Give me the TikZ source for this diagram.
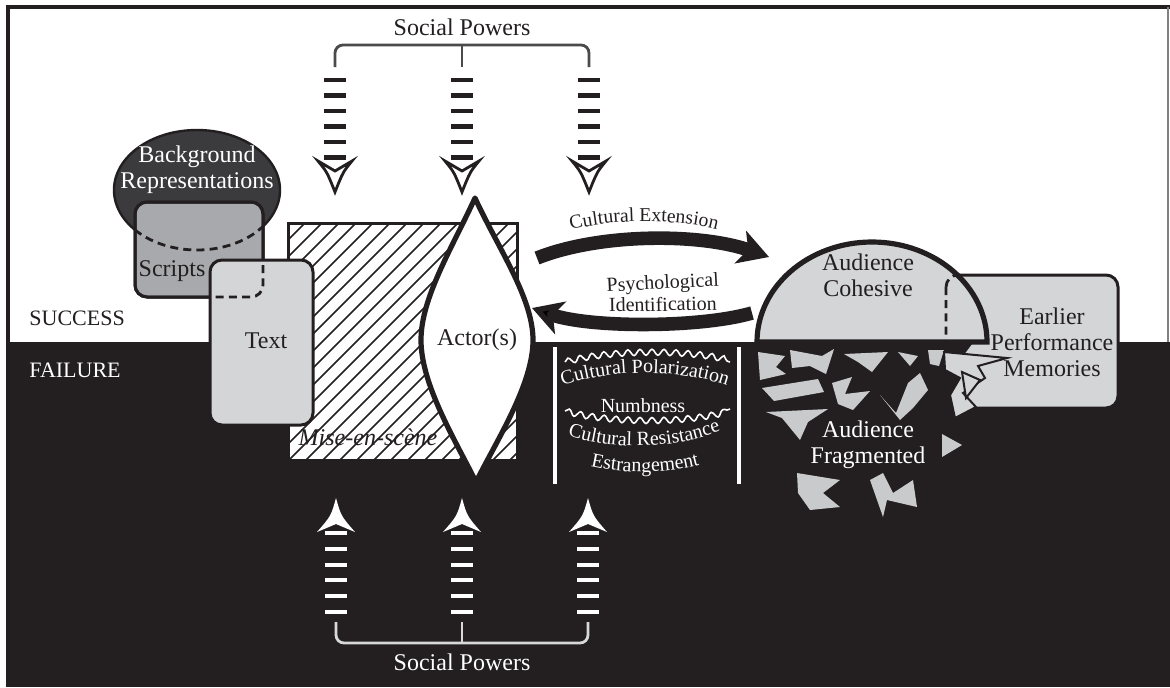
\documentclass[tikz,border=0pt]{standalone}
\usepackage{fontspec}
\setmainfont{Liberation Serif}
\usetikzlibrary{arrows.meta,decorations.pathmorphing,decorations.text}
\definecolor{ink}{HTML}{231F20}
\definecolor{bgdark}{HTML}{3B3B3D}
\definecolor{scriptgray}{HTML}{A7A9AC}
\definecolor{paper}{HTML}{D4D5D6}
\definecolor{shardgray}{HTML}{C9CACC}
\definecolor{bracketgray}{HTML}{4A4A4A}
\definecolor{bracketlight}{HTML}{D8D8D8}
\begin{document}
\begin{tikzpicture}[x=0.5pt,y=-0.5pt,
  lbl/.style={font=\fontsize{12}{13}\selectfont, text=ink, align=center, inner sep=0pt},
  wlbl/.style={lbl, text=white},
  slbl/.style={font=\fontsize{10}{12}\selectfont, text=ink, align=center, inner sep=0pt},
  boxline/.style={draw=ink, line width=1.5pt},
  dashline/.style={draw=ink, line width=1.4pt, dash pattern=on 4pt off 2.6pt},
  bigarrow/.style={draw=ink, line width=6.8pt},
  wave/.style={draw=white, line width=0.8pt, decorate, decoration={snake, amplitude=1.5pt, segment length=6pt}},
  shard/.style={fill=shardgray},
  oshard/.style={fill=paper, draw=ink, line width=1pt, line join=miter}
]
\useasboundingbox (0,0) rectangle (1170,687);
% ---------- background ----------
\fill[white] (0,0) rectangle (1170,687);
\fill[ink] (8,342) rectangle (1170,687);
\draw[ink, line width=1.6pt] (8,687) -- (8,7) -- (1170,7);
\draw[gray, line width=0.6pt] (1168,7) -- (1168,342);
\node[lbl, anchor=west, font=\fontsize{11}{13}\selectfont] (success) at (29,318) {SUCCESS};
\node[wlbl, anchor=west, font=\fontsize{11}{13}\selectfont] (failure) at (29,370) {FAILURE};

% ---------- background representations / scripts ----------
\path[fill=bgdark, draw=ink, line width=1.2pt] (197,190) ellipse [x radius=83, y radius=60];
\node[wlbl] (bgrep) at (197,170) {Background\\Representations};
\path[boxline, fill=scriptgray, rounded corners=6pt] (135,202) rectangle (263,297);
\begin{scope}
  \clip[rounded corners=6pt] (135,202) rectangle (263,297);
  \draw[dashline] (197,190) ellipse [x radius=83, y radius=60];
\end{scope}
\path[boxline, rounded corners=6pt] (135,202) rectangle (263,297);
\node[lbl] (scripts) at (172,271) {Scripts};

% ---------- mise-en-scene ----------
\fill[white] (288,223) rectangle (517,460);
\begin{scope}
  \clip (288,223) rectangle (517,460);
  \foreach \a in {51,68,...,527} \draw[ink, line width=0.8pt] (\a,460) -- (\a+237,223);
\end{scope}
\draw[ink, line width=1.5pt] (288,223) rectangle (517,460);
\node[lbl, font=\fontsize{12}{13}\selectfont\itshape] (mise) at (368,437) {Mise-en-scène};

% ---------- text ----------
\path[boxline, fill=paper, rounded corners=6pt] (210,260) rectangle (313,425);
\begin{scope}
  \clip[rounded corners=6pt] (210,260) rectangle (313,425);
  \draw[dashline, rounded corners=6pt] (135,202) rectangle (263,297);
\end{scope}
\node[lbl] (text) at (266,341) {Text};

% ---------- actor ----------
\path[draw=ink, line width=2.6pt, fill=white, line join=round]
  (475,198) .. controls (452,248) and (421,298) .. (421,340)
  .. controls (421,384) and (454,438) .. (476,482)
  .. controls (498,438) and (533,384) .. (533,340)
  .. controls (533,298) and (498,248) .. (475,198) -- cycle;
\node[lbl] (actor) at (477,340) {Actor(s)};

% ---------- social powers (top) ----------
\node[lbl] (sptop) at (462,27) {Social Powers};
\draw[bracketgray, line width=1.4pt, rounded corners=4pt] (335,67) |- (589,45) -- (589,67);
\draw[bracketgray, line width=1.4pt] (462,45) -- (462,67);
\foreach \x in {335,462,589} {
  \foreach \y in {80,95.5,111,126.5,142,157.5}
    \fill[ink] (\x-11,\y-2.3) rectangle (\x+11,\y+2.3);
  \path[fill=white, draw=ink, line width=1.4pt, line join=miter]
    (\x-17,161) .. controls (\x-8,172) .. (\x,192) .. controls (\x+8,172) .. (\x+17,161) -- (\x,171) -- cycle;
}

% ---------- social powers (bottom) ----------
\node[wlbl] (spbot) at (462,662) {Social Powers};
\draw[bracketlight, line width=1.4pt, rounded corners=4pt] (336,622) |- (588,643) -- (588,622);
\draw[bracketlight, line width=1.4pt] (462,622) -- (462,643);
\foreach \x in {336,462,588} {
  \foreach \y in {533,549,565,580,596,612}
    \fill[white] (\x-11,\y-2.2) rectangle (\x+11,\y+2.2);
  \fill[white] (\x,498) .. controls (\x+5,516) .. (\x+19,532) -- (\x,524) -- (\x-19,532) .. controls (\x-5,516) .. (\x,498) -- cycle;
}

% ---------- cultural extension / psychological identification ----------
\coordinate (ceS) at (537,258);
\coordinate (ceE) at (769,257);
\draw[bigarrow, -{Stealth[length=15pt,width=17pt,inset=4pt]}] (ceS) .. controls (600,233) and (700,233) .. (ceE);
\path[decorate, decoration={text along path, text color=ink, text align=center,
  text={|\fontsize{9.8}{11}\selectfont|Cultural Extension}}]
  (554,235) .. controls (605,217) and (685,217) .. (734,235);
\coordinate (piS) at (752,313);
\coordinate (piE) at (532,308);
\draw[bigarrow, -{Stealth[length=15pt,width=17pt,inset=4pt]}] (piS) .. controls (700,328) and (590,328) .. (piE);
\node[slbl, anchor=base, rotate=3] (psy) at (663,289) {Psychological};
\node[slbl, anchor=base, rotate=1] (ident) at (663,311) {Identification};

% ---------- failure column ----------
\draw[white, line width=2pt] (555,347) -- (555,484);
\draw[white, line width=2pt] (739,347) -- (739,484);
\draw[wave] (565,362) .. controls (610,350) and (690,350) .. (730,362);
\path[decorate, decoration={text along path, text color=white, text align=center,
  text={|\fontsize{10}{12}\selectfont|Cultural Polarization}}]
  (556,388) .. controls (610,368) and (680,368) .. (734,388);
\node[slbl, text=white, anchor=base] (numb) at (643,412) {Numbness};
\draw[wave] (565,411) .. controls (610,423) and (690,423) .. (730,409);
\path[decorate, decoration={text along path, text color=white, text align=center,
  text={|\fontsize{10}{12}\selectfont|Cultural Resistance}}]
  (556,431) .. controls (610,453) and (680,450) .. (732,426);
\path[decorate, decoration={text along path, text color=white, text align=center,
  text={|\fontsize{10}{12}\selectfont|Estrangement}}]
  (572,461) .. controls (615,476) and (675,476) .. (718,459);

% ---------- earlier performance memories ----------
\path[boxline, fill=paper, rounded corners=6pt] (946,275) rectangle (1118,408);
\node[lbl] (earlier) at (1052,342) {Earlier\\Performance\\Memories};

% ---------- audience cohesive ----------
\path[draw=ink, line width=2.6pt, fill=paper] (757,342) arc[start angle=180, end angle=360, x radius=115, y radius=100] -- cycle;
\begin{scope}
  \clip (757,342) arc[start angle=180, end angle=360, x radius=115, y radius=100] -- cycle;
  \draw[dashline, rounded corners=6pt] (946,275) rectangle (1118,408);
\end{scope}
\node[lbl] (cohesive) at (868,275) {Audience\\Cohesive};

% ---------- audience fragmented ----------
\fill[ink] (944,344) -- (972,344) -- (960,360) -- (976,382) -- (962,396) -- (978,410) -- (944,410) -- cycle;
\fill[shard] (758,352) -- (785,356) -- (776,367) -- (786,374) -- (760,380) -- cycle;
\fill[shard] (790,350) -- (822,356) -- (834,349) -- (826,374) -- (810,366) -- (792,368) -- cycle;
\fill[shard] (844,354) -- (888,352) -- (872,372) -- (858,362) -- cycle;
\fill[shard] (762,388) -- (818,379) -- (824,392) -- (774,401) -- cycle;
\fill[shard] (832,383) -- (852,377) -- (845,394) -- (870,391) -- (853,410) -- (838,404) -- cycle;
\fill[shard] (880,395) -- (896,413) -- (908,383) -- (920,373) -- (928,390) -- (913,408) -- (900,420) -- cycle;
\fill[shard] (766,412) -- (828,409) -- (808,422) -- (800,440) -- (782,418) -- cycle;
\fill[shard] (928,350) -- (944,350) -- (939,366) -- (930,364) -- cycle;
\fill[shard] (898,352) -- (918,356) -- (910,366) -- cycle;
\path[oshard] (944,352) -- (1007,358) -- (978,366) -- (985,378) -- (963,393) -- (976,407) -- (955,418) -- (950,395) -- (960,378) -- (945,370) -- cycle;
\path[oshard] (962,372) -- (980,380) -- (966,398) -- cycle;
\fill[shard] (942,434) -- (962,445) -- (942,457) -- cycle;
\fill[shard] (797,473) -- (840,480) -- (823,493) -- (840,507) -- (810,510) -- (798,493) -- cycle;
\fill[shard] (870,480) -- (883,473) -- (893,493) -- (913,480) -- (917,507) -- (887,500) -- (883,517) -- cycle;
\node[wlbl] (fragmented) at (868,445) {Audience\\Fragmented};
\end{tikzpicture}
\end{document}
